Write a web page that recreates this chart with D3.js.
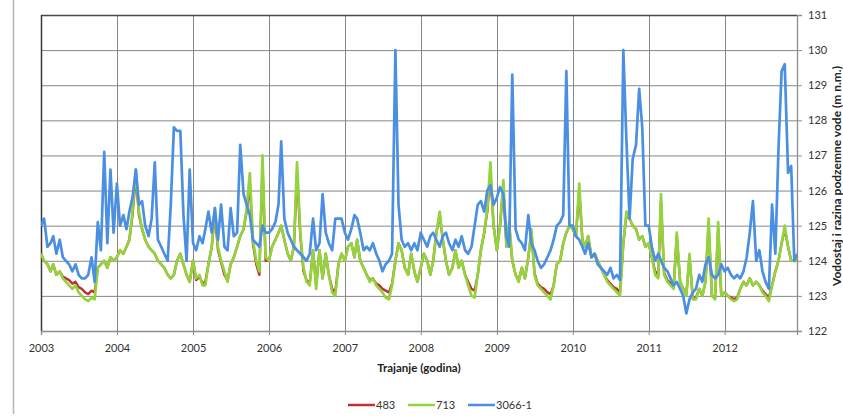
<!DOCTYPE html>
<html>
<head>
<meta charset="utf-8">
<script src="https://cdn.jsdelivr.net/npm/d3@7"></script>
<style>
  body { margin: 0; background: #fff; overflow: hidden; }
  text { font-family: Lato, "Open Sans", sans-serif; }
</style>
</head>
<body>
<div id="chart"></div>
<script>
// chart data (semi-monthly readings, 1st and 16th of each month, 2003-2012)
const years = [2003, 2004, 2005, 2006, 2007, 2008, 2009, 2010, 2011, 2012];
const yTicks = [122, 123, 124, 125, 126, 127, 128, 129, 130, 131];
const seriesNames = ['483', '713', '3066-1'];

const s483 = [
  124.2,124.0,123.9,123.7,123.9,123.6,123.7,123.55,123.5,123.45,123.35,123.4,123.25,123.2,123.1,123.05,123.15,123.1,123.8,123.9,124.0,123.8,124.1,124.0,
  124.1,124.3,124.2,124.4,124.6,125.3,126.4,125.3,124.9,124.6,124.4,124.3,124.2,124.0,123.9,123.8,123.6,123.5,123.6,124.0,124.2,123.9,123.6,123.4,
  124.0,123.45,123.55,123.35,123.4,123.9,124.4,125.3,124.3,123.95,123.6,123.45,123.9,124.1,124.4,124.7,124.9,125.4,126.2,124.5,123.9,123.6,126.7,124.0,
  124.0,124.4,124.6,124.8,125.0,124.6,124.2,124.0,124.4,126.5,124.7,123.7,123.45,123.35,124.3,123.3,124.3,123.5,124.2,123.6,123.2,123.1,123.9,124.2,
  124.0,124.4,124.5,124.1,124.6,124.0,123.8,123.6,123.45,123.5,123.35,123.3,123.2,123.15,123.1,123.35,124.0,124.5,124.3,123.8,123.6,124.2,123.7,123.4,
  123.8,124.2,124.0,123.6,124.0,124.8,125.3,124.6,124.0,123.6,123.8,124.3,123.8,124.0,123.6,123.4,123.2,123.15,123.6,124.3,124.8,125.4,126.5,125.0,
  124.3,125.0,126.1,124.4,125.0,124.0,123.6,123.45,123.8,123.5,124.1,124.8,123.65,123.35,123.25,123.2,123.1,123.05,123.3,123.9,124.0,124.5,124.8,125.0,
  124.9,124.7,126.0,124.6,124.4,124.7,124.1,124.2,124.0,123.8,123.6,123.45,123.35,123.25,123.2,123.1,124.5,125.3,125.2,125.0,124.9,124.6,124.7,124.4,
  124.5,124.1,123.7,123.6,125.7,123.65,123.45,123.35,123.25,124.7,123.4,123.2,123.05,124.1,122.95,122.95,123.2,123.0,123.4,125.0,123.0,122.95,124.9,123.0,
  123.1,123.0,122.95,122.9,122.95,123.2,123.4,123.3,123.5,123.3,123.4,123.3,123.15,123.05,122.95,123.3,123.7,124.0,124.5,124.9,124.4,124.0,124.0,124.0
];

const s713 = [
  124.2,124.0,123.9,123.7,123.9,123.6,123.7,123.5,123.4,123.3,123.2,123.3,123.1,123.0,122.9,122.85,122.95,122.9,123.8,123.9,124.0,123.8,124.1,124.0,
  124.1,124.3,124.2,124.4,124.6,125.4,126.6,125.4,124.9,124.6,124.4,124.3,124.2,124.0,123.9,123.8,123.6,123.5,123.6,124.0,124.2,123.9,123.6,123.4,
  124.0,123.5,123.6,123.3,123.3,123.9,124.4,125.5,124.4,124.0,123.7,123.4,123.9,124.1,124.4,124.7,124.9,125.5,126.5,124.6,124.0,123.7,127.0,124.1,
  124.0,124.4,124.6,124.8,125.0,124.6,124.2,124.0,124.4,126.8,124.8,123.8,123.4,123.3,124.3,123.2,124.3,123.5,124.2,123.6,123.1,123.0,123.9,124.2,
  124.0,124.4,124.5,124.1,124.6,124.0,123.8,123.6,123.4,123.5,123.3,123.2,123.1,122.95,122.9,123.3,124.0,124.5,124.3,123.8,123.6,124.2,123.7,123.4,
  123.8,124.2,124.0,123.6,124.0,124.8,125.4,124.6,124.0,123.6,123.8,124.3,123.8,124.0,123.6,123.3,123.0,122.95,123.6,124.3,124.8,125.5,126.8,125.0,
  124.3,125.0,126.3,124.4,125.1,124.0,123.6,123.4,123.8,123.5,124.1,124.9,123.6,123.3,123.2,123.1,123.0,122.9,123.3,123.9,124.0,124.5,124.8,125.0,
  124.9,124.7,126.2,124.6,124.4,124.7,124.1,124.2,124.0,123.8,123.6,123.4,123.3,123.2,123.1,123.0,124.5,125.4,125.2,125.0,124.9,124.6,124.7,124.4,
  124.5,124.1,123.6,123.5,125.9,123.6,123.4,123.3,123.2,124.8,123.4,123.2,123.0,124.2,122.9,122.9,123.2,123.0,123.4,125.2,123.0,122.9,125.1,123.0,
  123.1,123.0,122.9,122.85,122.9,123.2,123.4,123.3,123.5,123.3,123.4,123.3,123.1,123.0,122.85,123.3,123.7,124.0,124.5,125.0,124.4,124.0,124.0,124.0
];

const s3066 = [
  125.0,125.2,124.4,124.5,124.7,124.2,124.6,124.1,124.0,123.9,123.7,123.9,123.6,123.5,123.5,123.6,124.1,123.4,125.1,124.3,127.1,124.5,126.6,124.8,
  126.2,125.0,125.3,124.9,125.4,125.8,126.6,125.6,125.7,125.0,124.7,125.2,126.8,124.6,124.4,124.2,124.0,125.6,127.8,127.7,127.7,125.3,124.0,126.6,
  124.5,124.3,124.7,124.5,124.9,125.4,124.8,125.5,124.6,125.6,124.4,124.3,125.5,124.7,124.8,127.3,125.9,125.6,125.3,124.6,124.5,124.4,125.0,124.8,
  124.8,124.9,125.1,125.6,127.4,125.2,124.8,124.6,124.4,124.3,124.2,124.1,124.0,124.2,125.2,124.3,124.5,125.9,124.8,124.5,124.3,125.2,125.2,125.2,
  124.8,124.6,124.9,125.3,125.2,124.8,124.3,124.4,124.3,124.5,124.2,124.0,123.7,123.9,124.0,124.2,130.0,125.6,124.6,124.4,124.5,124.3,124.5,124.3,
  124.8,124.6,124.4,124.7,124.8,124.6,124.4,124.7,124.8,124.5,124.3,124.6,124.4,124.7,124.3,124.2,124.4,125.0,125.6,125.7,125.4,126.0,126.15,125.6,
  125.8,126.1,125.9,124.7,124.4,129.3,124.9,124.6,124.5,124.3,125.3,124.5,124.3,124.0,123.8,123.9,124.1,124.3,124.6,125.0,125.1,125.3,129.4,125.0,
  125.0,124.7,124.6,124.4,124.2,124.5,124.1,124.2,123.9,123.8,123.7,123.6,123.8,123.5,123.6,123.45,130.0,127.4,125.2,126.9,127.3,128.9,127.8,125.0,
  125.0,124.4,124.0,124.2,124.0,123.8,123.7,123.5,123.3,123.4,123.2,123.0,122.5,122.9,123.1,123.2,123.6,123.4,123.9,124.1,123.6,123.5,123.6,123.9,
  123.7,123.8,123.6,123.5,123.6,123.5,123.7,124.1,124.8,125.7,124.0,124.3,123.7,123.4,123.2,125.6,124.2,127.2,129.4,129.6,126.5,126.7,124.0,124.2
];

const colors = ['#c0303a', '#93d43c', '#4b8fe3'];

const width = 843, height = 417;
const margin = {top: 15, right: 46, bottom: 86, left: 41};
const plotW = width - margin.left - margin.right;
const plotH = height - margin.top - margin.bottom;

// semi-monthly dates
const dates = s713.map((v, i) => new Date(years[0] + Math.floor(i / 24), Math.floor((i % 24) / 2), (i % 2) ? 16 : 1));

const svg = d3.select('#chart').append('svg')
  .attr('width', width)
  .attr('height', height);

// page border line on the left
svg.append('line')
  .attr('x1', 13.5).attr('x2', 13.5)
  .attr('y1', 0).attr('y2', 414)
  .attr('stroke', '#b5b5b5').attr('stroke-width', 1.5);

const x = d3.scaleTime()
  .domain([new Date(2003, 0, 1), new Date(2012, 11, 14)])
  .range([margin.left, margin.left + plotW]);
const y = d3.scaleLinear()
  .domain([122, 131])
  .range([margin.top + plotH, margin.top]);

const yearDates = years.map(d => new Date(d, 0, 1));

// grid
svg.append('g').selectAll('line').data(yTicks).join('line')
  .attr('x1', margin.left).attr('x2', margin.left + plotW)
  .attr('y1', d => y(d) + 0.5).attr('y2', d => y(d) + 0.5)
  .attr('stroke', '#868686').attr('stroke-width', 1);
svg.append('g').selectAll('line').data(yearDates).join('line')
  .attr('x1', d => Math.round(x(d)) + 0.5).attr('x2', d => Math.round(x(d)) + 0.5)
  .attr('y1', margin.top).attr('y2', margin.top + plotH)
  .attr('stroke', '#868686').attr('stroke-width', 1);

// frame: darker top and left edges
svg.append('line')
  .attr('x1', margin.left).attr('x2', margin.left + plotW)
  .attr('y1', margin.top + 0.5).attr('y2', margin.top + 0.5)
  .attr('stroke', '#4a4a4a').attr('stroke-width', 1.3);
svg.append('line')
  .attr('x1', margin.left + 0.5).attr('x2', margin.left + 0.5)
  .attr('y1', margin.top).attr('y2', margin.top + plotH)
  .attr('stroke', '#3a3a3a').attr('stroke-width', 1.5);

// lines
svg.append('clipPath').attr('id', 'plot-clip')
  .append('rect')
  .attr('x', margin.left).attr('y', margin.top - 2)
  .attr('width', plotW).attr('height', plotH + 4);

const lineGen = d3.line()
  .x((d, i) => x(dates[i]))
  .y(d => y(d));

const lines = svg.append('g').attr('clip-path', 'url(#plot-clip)');
[s483, s713, s3066].forEach((s, k) => {
  lines.append('path')
    .datum(s)
    .attr('fill', 'none')
    .attr('stroke', colors[k])
    .attr('stroke-width', k === 0 ? 2.4 : 2.7)
    .attr('stroke-linejoin', 'round')
    .attr('d', lineGen);
});

// x axis
const xAxis = svg.append('g')
  .attr('transform', `translate(0,${margin.top + plotH})`)
  .call(d3.axisBottom(x).tickValues(yearDates).tickFormat(d3.timeFormat('%Y')).tickSize(4).tickPadding(9));
xAxis.select('.domain').attr('stroke', '#8d8d8d').attr('stroke-width', 1.3);
xAxis.selectAll('.tick line').attr('stroke', '#8d8d8d');
xAxis.selectAll('text').attr('font-size', 11).attr('fill', '#333');

// y axis on the right
const yAxis = svg.append('g')
  .attr('transform', `translate(${margin.left + plotW},0)`)
  .call(d3.axisRight(y).tickValues(yTicks).tickSize(5).tickPadding(6));
yAxis.select('.domain').attr('stroke', '#8d8d8d').attr('stroke-width', 1.3);
yAxis.selectAll('.tick line').attr('stroke', '#8d8d8d');
yAxis.selectAll('text').attr('font-size', 11).attr('fill', '#333');

// axis titles
svg.append('text')
  .attr('x', 419).attr('y', 372)
  .attr('text-anchor', 'middle')
  .attr('font-size', 11.5).attr('font-weight', 'bold').attr('fill', '#222')
  .text('Trajanje (godina)');

svg.append('text')
  .attr('transform', 'translate(840.5,176) rotate(-90)')
  .attr('text-anchor', 'middle')
  .attr('font-size', 12).attr('font-weight', 'bold').attr('fill', '#222')
  .text('Vodostaj i razina podzemne vode (m n.m.)');

// legend
const legendX = [348, 408, 468];
const legend = svg.append('g');
seriesNames.forEach((name, k) => {
  legend.append('line')
    .attr('x1', legendX[k]).attr('x2', legendX[k] + 27)
    .attr('y1', 405).attr('y2', 405)
    .attr('stroke', colors[k]).attr('stroke-width', 2.5);
  legend.append('text')
    .attr('x', legendX[k] + 28).attr('y', 409)
    .attr('font-size', 11).attr('fill', '#333')
    .text(name);
});
</script>
</body>
</html>
